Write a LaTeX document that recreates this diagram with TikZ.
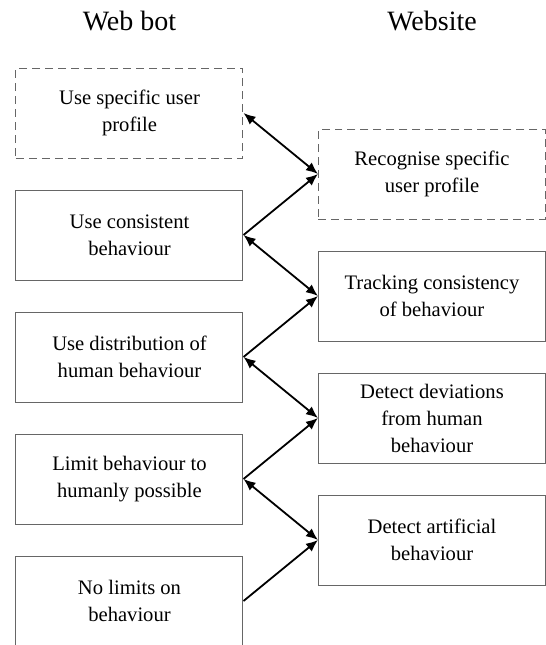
\documentclass[tikz,border=0pt]{standalone}
\usepackage{fontspec}
\setmainfont{Liberation Serif}
\usetikzlibrary{arrows.meta}

\begin{document}
\begin{tikzpicture}[x=0.5pt, y=-0.5pt]
    \tikzset{box/.style={draw=black!60, line width=0.5pt, minimum width=113.5pt, minimum height=45pt,
                         align=center, inner sep=2pt, font=\fontsize{10.3}{13.5}\selectfont}}
    \tikzset{guess/.style={box, dash pattern=on 4pt off 2.5pt}} %% dashed boxes
    \tikzset{head/.style={font=\fontsize{14}{16}\selectfont}}
    \tikzset{link/.style={line width=0.9pt, -{Latex[length=6pt,width=5pt]}}}
    \tikzset{match/.style={line width=0.9pt, {Latex[length=6pt,width=5pt]}-{Latex[length=6pt,width=5pt]}}}
    \useasboundingbox (0,0) rectangle (546,645);

    \node[head] (bothead) at (129.5,21) {Web bot};
    \node[head] (sitehead) at (432,21) {Website};

    % web bot side
    \node[guess] (bot1) at (129.5,113) {Use specific user\\profile};
    \node[box]   (bot2) at (129.5,235) {Use consistent\\behaviour};
    \node[box]   (bot3) at (129.5,357) {Use distribution of\\human behaviour};
    \node[box]   (bot4) at (129.5,479) {Limit behaviour to\\humanly possible};
    \node[box]   (bot5) at (129.5,601) {No limits on\\behaviour};

    % website side
    \node[guess] (site1) at (432,174) {Recognise specific\\user profile};
    \node[box]   (site2) at (432,296) {Tracking consistency\\of behaviour};
    \node[box]   (site3) at (432,418) {Detect deviations\\from human\\behaviour};
    \node[box]   (site4) at (432,540) {Detect artificial\\behaviour};

    \foreach \i/\j in {1/2,2/3,3/4,4/5} {
            \draw[match] (bot\i.east) -- (site\i.west);
            \draw[link] (bot\j.east) -- (site\i.west);
        }
\end{tikzpicture}
\end{document}
